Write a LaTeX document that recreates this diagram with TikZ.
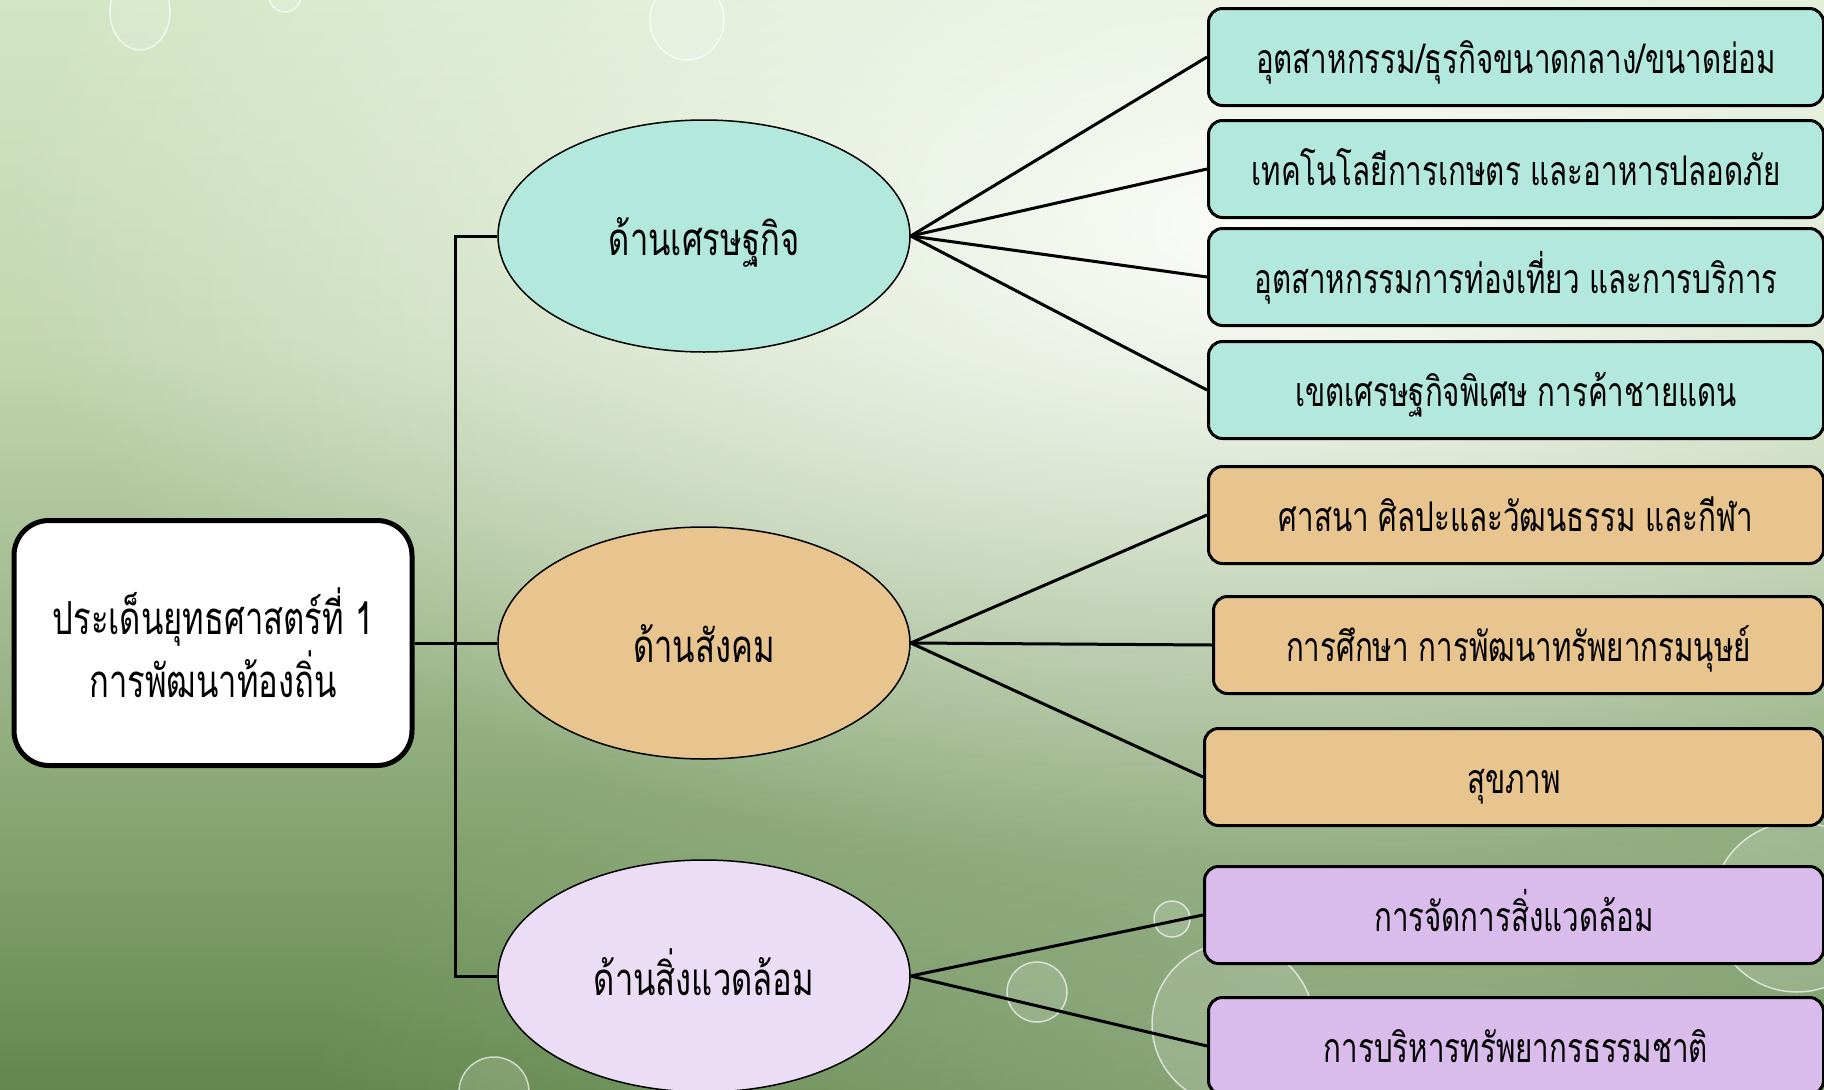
\documentclass[tikz,border=0pt]{standalone}
\usepackage{fontspec}
\newfontfamily\thai[Script=Thai,FakeStretch=0.72]{Loma}
\usetikzlibrary{shapes.geometric,fadings}
\definecolor{bgB}{HTML}{62884D}
\definecolor{bgM}{HTML}{9DB78A}
\definecolor{bgU}{HTML}{C2D6B0}
\definecolor{bgT}{HTML}{D3E6C4}
\definecolor{ecoF}{HTML}{B3E9DD}
\definecolor{socF}{HTML}{E8C48E}
\definecolor{envE}{HTML}{EBDDF5}
\definecolor{envB}{HTML}{D9BCEC}
\pgfdeclareverticalshading{bgv}{100bp}{color(0bp)=(bgB); color(25bp)=(bgB); color(45bp)=(bgM); color(59bp)=(bgU); color(75bp)=(bgT); color(100bp)=(bgT)}
\tikzfading[name=glowA, inner color=transparent!8, outer color=transparent!100]
\tikzfading[name=glowB, inner color=transparent!72, outer color=transparent!100]
\tikzset{
  mainbox/.style={draw=black, line width=5pt, fill=white, rounded corners=35pt,
    minimum width=398pt, minimum height=245pt, align=center, inner sep=0pt,
    font=\thai\fontsize{45.5}{63}\selectfont},
  topic/.style={ellipse, draw=black, line width=1.5pt, minimum width=412pt,
    minimum height=232pt, inner sep=0pt, text height=44pt, text depth=6pt,
    font=\thai\fontsize{45.5}{50}\selectfont},
  item/.style={draw=black, line width=3pt, rounded corners=14pt, anchor=west,
    minimum height=97pt, inner sep=0pt, text height=38pt, text depth=6pt,
    font=\thai\fontsize{41}{48}\selectfont},
  link/.style={draw=black, line width=3pt},
  drop/.style={fill=white, fill opacity=0.15, draw=white, draw opacity=0.65, line width=1.5pt}
}
\begin{document}
\begin{tikzpicture}[x=1pt,y=-1pt]
\useasboundingbox (0,0) rectangle (1824,1090);
% background
\begin{scope}
\clip (0,0) rectangle (1824,1090);
\shade[shading=bgv] (0,0) rectangle (1824,1090);
\fill[white, path fading=glowA] (1250,230) ellipse [x radius=1250, y radius=640];
\fill[white, path fading=glowB] (1400,1100) ellipse [x radius=1100, y radius=500];
% droplets
\draw[drop] (140,12) ellipse [x radius=30, y radius=38];
\draw[drop] (285,-4) circle (16);
\draw[drop] (687,20) ellipse [x radius=37, y radius=40];
\draw[drop] (1172,919) circle (18);
\draw[drop] (1037,992) circle (30);
\draw[drop] (1233,1024) circle (81);
\draw[drop] (1797,907) circle (85);
\draw[drop] (494,1092) circle (35);
\end{scope}
% nodes
\node[mainbox] (main) at (213,643) {ประเด็นยุทธศาสตร์ที่ 1\\การพัฒนาท้องถิ่น};
\node[topic, fill=ecoF] (eco) at (704,236) {ด้านเศรษฐกิจ};
\node[topic, fill=socF] (soc) at (704,643) {ด้านสังคม};
\node[topic, fill=envE] (env) at (704,976) {ด้านสิ่งแวดล้อม};
\coordinate (tx) at (455,0);
\node[item, fill=ecoF, minimum width=615pt] (b1) at (1207,57) {อุตสาหกรรม/ธุรกิจขนาดกลาง/ขนาดย่อม};
\node[item, fill=ecoF, minimum width=615pt] (b2) at (1207,169) {เทคโนโลยีการเกษตร และอาหารปลอดภัย};
\node[item, fill=ecoF, minimum width=615pt] (b3) at (1207,277) {อุตสาหกรรมการท่องเที่ยว และการบริการ};
\node[item, fill=ecoF, minimum width=615pt] (b4) at (1207,390) {เขตเศรษฐกิจพิเศษ การค้าชายแดน};
\node[item, fill=socF, minimum width=615pt] (b5) at (1207,515) {ศาสนา ศิลปะและวัฒนธรรม และกีฬา};
\node[item, fill=socF, minimum width=610pt] (b6) at (1212,645) {การศึกษา การพัฒนาทรัพยากรมนุษย์};
\node[item, fill=socF, minimum width=619pt] (b7) at (1203,777) {สุขภาพ};
\node[item, fill=envB, minimum width=619pt] (b8) at (1203,915) {การจัดการสิ่งแวดล้อม};
\node[item, fill=envB, minimum width=615pt] (b9) at (1207,1046) {การบริหารทรัพยากรธรรมชาติ};
% connectors
\draw[link] (main.east) -- (soc.west);
\draw[link] (eco.west) -- (eco.west -| tx) -- (env.west -| tx) -- (env.west);
\foreach \b in {b1,b2,b3,b4} \draw[link] (eco.east) -- (\b.west);
\foreach \b in {b5,b6,b7} \draw[link] (soc.east) -- (\b.west);
\foreach \b in {b8,b9} \draw[link] (env.east) -- (\b.west);
\end{tikzpicture}
\end{document}
